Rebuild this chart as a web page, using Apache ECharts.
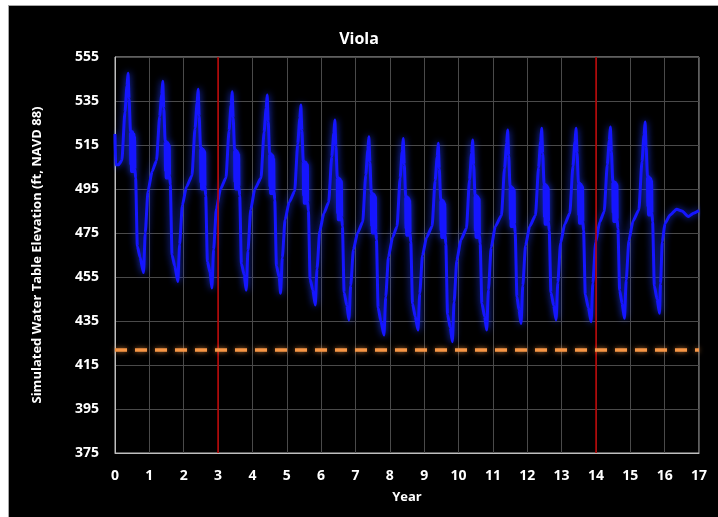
<!DOCTYPE html>
<html>
<head>
<meta charset="utf-8">
<script src="https://cdn.jsdelivr.net/npm/echarts@6/dist/echarts.min.js"></script>
<style>
  html, body { margin: 0; padding: 0; background: #ffffff; }
  #frame { position: absolute; left: 8px; top: 5px; width: 712px; height: 514px; background: #000; border: 1px solid #a6a6a6; box-sizing: border-box; }
  #chart { position: absolute; left: 0; top: 0; width: 718px; height: 517px; }
</style>
</head>
<body>
<div id="frame"></div>
<div id="chart"></div>
<script>
// ---- Data ----
const chartTitle = 'Viola';
const xAxisName = 'Year';
const yAxisName = 'Simulated Water Table Elevation (ft, NAVD 88)';
const yearRange = [0, 17];
const elevationRange = [375, 555];
const elevationStep = 20;
const markerYears = [3, 14];
const thresholdElevation = [422];

// [year, elevation ft]
const elevation = [
  [0.00,520],[0.02,506],[0.10,506],[0.20,508],[0.29,530],[0.35,542],[0.38,547.6],
  [0.41,536],[0.45,521],
  [0.46,506],[0.47,521],[0.48,503],[0.49,521],[0.50,503],[0.51,521],[0.52,503],[0.53,520],[0.54,503],[0.55,520],[0.56,503],[0.57,519],[0.58,504],
  [0.60,500],[0.65,469],[0.73,464],[0.83,457],[0.88,475],[0.96,494],[1.08,503],[1.21,508],[1.30,528],[1.36,538],[1.39,544],
  [1.42,531.6],[1.46,516.5],
  [1.47,503],[1.48,516.5],[1.49,500],[1.50,516.5],[1.51,500],[1.52,516],[1.53,500],[1.54,516],[1.55,500],[1.56,515.5],[1.57,500],[1.58,515],[1.59,501],
  [1.61,497],[1.66,465],[1.74,460],[1.83,453],[1.88,469.8],[1.96,487.6],[2.08,496],[2.24,501],[2.33,522.6],[2.39,534.3],[2.42,540.3],
  [2.45,528.2],[2.49,513.5],
  [2.50,498],[2.51,513.5],[2.52,495],[2.53,513.5],[2.54,495],[2.55,513],[2.56,495],[2.57,513],[2.58,495],[2.59,512.5],[2.60,495],[2.61,512],[2.62,496],
  [2.64,492],[2.69,462],[2.77,457],[2.82,450],[2.87,467.5],[2.95,486],[3.07,495],[3.23,500],[3.32,521.6],[3.38,533.2],[3.41,539.2],
  [3.44,527.3],[3.48,512.7],
  [3.49,498],[3.50,512.7],[3.51,495],[3.52,512.7],[3.53,495],[3.54,512],[3.55,495],[3.56,512],[3.57,495],[3.58,511.5],[3.59,495],[3.60,511],[3.61,496],
  [3.63,492],[3.68,461],[3.76,456],[3.82,449],[3.87,466.9],[3.95,485.7],[4.07,495],[4.25,500],[4.34,520.9],[4.40,531.7],[4.43,537.7],
  [4.46,525.7],[4.50,511],
  [4.51,496],[4.52,511],[4.53,493],[4.54,511],[4.55,493],[4.56,510.5],[4.57,493],[4.58,510.5],[4.59,493],[4.60,510],[4.61,493],[4.62,509],[4.63,494],
  [4.65,490],[4.70,460],[4.78,455],[4.82,447.6],[4.87,463.8],[4.95,481],[5.07,489],[5.23,494],[5.32,515.6],[5.38,527.2],[5.41,533.2],
  [5.44,521.6],[5.48,507.4],
  [5.49,492],[5.50,507.4],[5.51,488.5],[5.52,507.4],[5.53,488.5],[5.54,507],[5.55,488.5],[5.56,507],[5.57,488.5],[5.58,506.5],[5.59,488.5],[5.60,506],[5.61,489],
  [5.63,485],[5.68,454],[5.76,449],[5.83,442.3],[5.88,458.6],[5.96,475.9],[6.08,484],[6.22,489],[6.31,509.7],[6.37,520.4],[6.40,526.4],
  [6.43,514.5],[6.47,500],
  [6.48,484],[6.49,500],[6.50,481],[6.51,500],[6.52,481],[6.53,499.5],[6.54,481],[6.55,499.5],[6.56,481],[6.57,499],[6.58,481],[6.59,498.5],[6.60,482],
  [6.62,478],[6.67,448],[6.75,442],[6.81,435.5],[6.86,451.1],[6.94,467.5],[7.06,475],[7.21,480],[7.30,501.4],[7.36,512.8],[7.39,518.8],
  [7.42,507.2],[7.46,493],
  [7.47,478],[7.48,493],[7.49,475],[7.50,493],[7.51,475],[7.52,492.5],[7.53,475],[7.54,492.5],[7.55,475],[7.56,492],[7.57,475],[7.58,491.5],[7.59,476],
  [7.61,472],[7.66,441],[7.74,435],[7.83,428.6],[7.88,445.9],[7.96,464.2],[8.08,473],[8.21,478],[8.30,500],[8.36,512],[8.39,518],
  [8.42,506.1],[8.46,491.5],
  [8.47,477],[8.48,491.5],[8.49,474],[8.50,491.5],[8.51,474],[8.52,491],[8.53,474],[8.54,491],[8.55,474],[8.56,490.5],[8.57,474],[8.58,490],[8.59,475],
  [8.61,471],[8.66,443],[8.74,437],[8.82,430.9],[8.87,447.4],[8.95,464.8],[9.07,473],[9.23,478],[9.32,498.9],[9.38,509.8],[9.41,515.8],
  [9.44,504.2],[9.48,490],
  [9.49,476],[9.50,490],[9.51,473],[9.52,490],[9.53,473],[9.54,489.5],[9.55,473],[9.56,489.5],[9.57,473],[9.58,489],[9.59,473],[9.60,488.5],[9.61,474],
  [9.63,470],[9.68,438],[9.76,432],[9.82,425.6],[9.87,443.6],[9.95,462.6],[10.07,472],[10.23,477],[10.32,499.2],[10.38,511.3],[10.41,517.3],
  [10.44,505.9],[10.48,492],
  [10.49,476],[10.50,492],[10.51,473],[10.52,492],[10.53,473],[10.54,491.5],[10.55,473],[10.56,491.5],[10.57,473],[10.58,491],[10.59,473],[10.60,490.5],[10.61,474],
  [10.63,470],[10.68,443],[10.76,437],[10.82,430.9],[10.87,449.1],[10.95,468.4],[11.07,478],[11.25,483],[11.34,504.4],[11.40,515.8],[11.43,521.8],
  [11.46,510.2],[11.50,496],
  [11.51,481],[11.52,496],[11.53,478],[11.54,496],[11.55,478],[11.56,495.5],[11.57,478],[11.58,495.5],[11.59,478],[11.60,495],[11.61,478],[11.62,494.5],[11.63,479],
  [11.65,475],[11.70,446],[11.76,440],[11.82,433.9],[11.87,451.1],[11.95,469.3],[12.07,478],[12.24,483],[12.33,504.8],[12.39,516.6],[12.42,522.6],
  [12.45,511.1],[12.49,497],
  [12.50,482],[12.51,497],[12.52,479],[12.53,497],[12.54,479],[12.55,496.5],[12.56,479],[12.57,496.5],[12.58,479],[12.59,496],[12.60,479],[12.61,495.5],[12.62,480],
  [12.64,476],[12.69,448],[12.77,442],[12.84,435.5],[12.89,452.5],[12.97,470.4],[13.09,479],[13.24,484],[13.33,505.3],[13.39,516.6],[13.42,522.6],
  [13.45,511.4],[13.49,497.6],
  [13.50,483],[13.51,497.6],[13.52,479.4],[13.53,497.6],[13.54,479.4],[13.55,497],[13.56,479.4],[13.57,497],[13.58,479.4],[13.59,496.5],[13.60,479.4],[13.61,496],[13.62,480],
  [13.64,476],[13.69,447],[13.78,441],[13.86,434.7],[13.91,452.2],[13.99,470.7],[14.11,480],[14.24,484.7],[14.33,506],[14.39,517.2],[14.42,523.2],
  [14.45,512],[14.49,498.3],
  [14.50,484],[14.51,498.3],[14.52,480.2],[14.53,498.3],[14.54,480.2],[14.55,498],[14.56,480.2],[14.57,498],[14.58,480.2],[14.59,497.5],[14.60,480.2],[14.61,497],[14.62,481],
  [14.64,477],[14.69,449],[14.76,443],[14.83,436.2],[14.88,453.5],[14.96,471.7],[15.08,480.5],[15.25,485.5],[15.34,507.5],[15.40,519.5],[15.43,525.5],
  [15.46,514.3],[15.50,500.6],
  [15.51,487],[15.52,500.6],[15.53,483.2],[15.54,500.6],[15.55,483.2],[15.56,500],[15.57,483.2],[15.58,500],[15.59,483.2],[15.60,499.5],[15.61,483.2],[15.62,499],[15.63,484],
  [15.65,480],[15.70,451],[15.78,445],[15.85,438.5],[15.88,452],[15.93,471],[16.01,479.4],[16.16,483.2],[16.35,485.8],
  [16.50,485],[16.69,482.5],[16.84,484],[17.00,485.2]
];

const FONT = 'Open Sans';
const chart = echarts.init(document.getElementById('chart'), null, { renderer: 'canvas' });

chart.setOption({
  backgroundColor: 'transparent',
  animation: false,
  title: {
    text: chartTitle,
    left: 'center',
    top: 26,
    textStyle: { color: '#ffffff', fontFamily: FONT, fontWeight: 'bold', fontSize: 16 }
  },
  grid: {
    left: 115, right: 19, top: 57, bottom: 64,
    show: true, borderColor: '#bfbfbf', borderWidth: 1, backgroundColor: 'transparent'
  },
  xAxis: {
    type: 'value',
    min: yearRange[0], max: yearRange[1], interval: 1,
    name: xAxisName,
    nameLocation: 'middle',
    nameGap: 38,
    nameTextStyle: { color: '#ffffff', fontFamily: FONT, fontWeight: 'bold', fontSize: 13 },
    axisLine: { show: true, lineStyle: { color: '#bfbfbf', width: 1 } },
    axisTick: { show: false },
    axisLabel: { color: '#ffffff', fontFamily: FONT, fontWeight: 'bold', fontSize: 14, margin: 16 },
    splitLine: { show: true, lineStyle: { color: '#4a4a4a', width: 1 } }
  },
  yAxis: {
    type: 'value',
    min: elevationRange[0], max: elevationRange[1], interval: elevationStep,
    name: yAxisName,
    nameLocation: 'middle',
    nameGap: 71,
    nameTextStyle: { color: '#ffffff', fontFamily: FONT, fontWeight: 'bold', fontSize: 13 },
    axisLine: { show: true, lineStyle: { color: '#bfbfbf', width: 1 } },
    axisTick: { show: false },
    axisLabel: { color: '#ffffff', fontFamily: FONT, fontWeight: 'bold', fontSize: 14, margin: 16 },
    splitLine: { show: true, lineStyle: { color: '#4a4a4a', width: 1 } }
  },
  series: [
    {
      type: 'line',
      z: 1,
      data: [],
      silent: true,
      markLine: {
        silent: true,
        symbol: ['none', 'none'],
        label: { show: false },
        animation: false,
        data: [
          ...markerYears.map(x => ({ xAxis: x, lineStyle: { color: '#c00000', width: 1.5, type: 'solid' } })),
          ...thresholdElevation.map(y => ({ yAxis: y, lineStyle: { color: '#f79646', width: 3.5, type: [12, 8], shadowColor: 'rgba(247,150,70,0.7)', shadowBlur: 5 } }))
        ]
      }
    },
    {
      type: 'line',
      z: 3,
      data: elevation,
      showSymbol: false,
      smooth: 0.2,
      smoothMonotone: 'x',
      lineStyle: { color: '#1515ff', width: 3, shadowColor: 'rgba(30,60,255,0.9)', shadowBlur: 7 }
    }
  ]
});
</script>
</body>
</html>
